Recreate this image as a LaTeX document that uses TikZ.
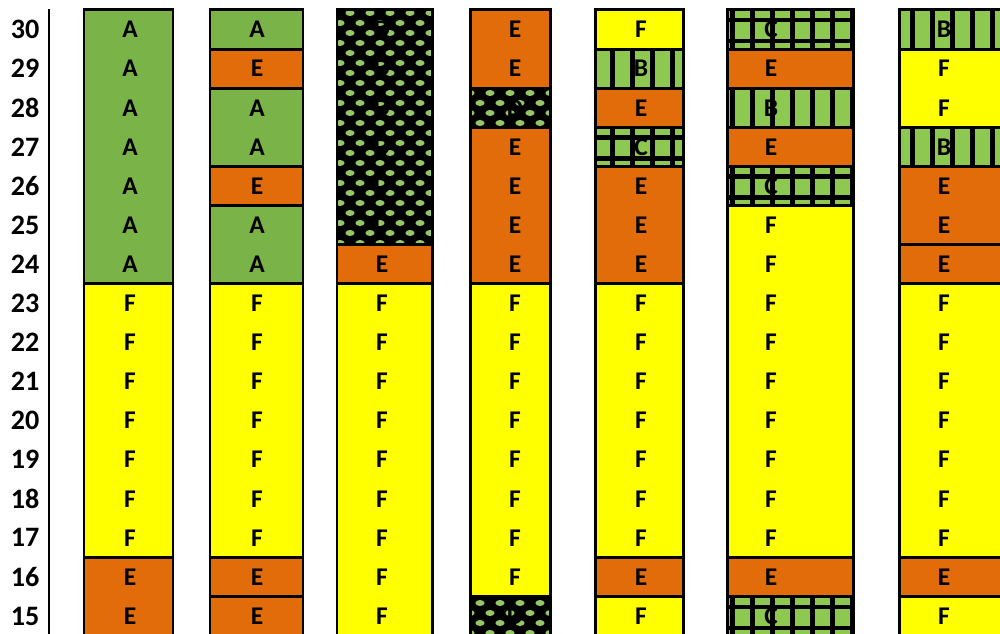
\documentclass[tikz,border=0pt]{standalone}
\usepackage{fontspec}
\setmainfont{Carlito}
\definecolor{agreen}{RGB}{122,180,72}
\definecolor{bgreen}{RGB}{141,200,80}
\definecolor{dgreen}{RGB}{150,198,104}
\definecolor{eorange}{RGB}{226,107,10}
\definecolor{fyellow}{RGB}{255,255,0}
\tikzset{
  cellbox/.style={draw=black,line width=1.7pt},
  lab/.style={font=\bfseries\fontsize{14.5}{14.5}\selectfont,inner sep=0pt},
  rownum/.style={font=\bfseries\fontsize{16}{16}\selectfont,inner sep=0pt},
}
% fills for the kinds of layer: #1 left, #2 top, #3 right, #4 bottom
\newcommand{\fillA}[4]{\fill[agreen] (#1,#2) rectangle (#3,#4);}
\newcommand{\fillE}[4]{\fill[eorange] (#1,#2) rectangle (#3,#4);}
\newcommand{\fillF}[4]{\fill[fyellow] (#1,#2) rectangle (#3,#4);}
\newcommand{\fillB}[4]{%
  \begin{scope}
    \clip (#1,#2) rectangle (#3,#4);
    \fill[bgreen] (#1,#2) rectangle (#3,#4);
    \pgfmathtruncatemacro\xa{20*floor(#1/20)}
    \foreach \k in {0,...,7}{\fill[black] (\xa+\k*20+9.5,#2) rectangle (\xa+\k*20+14.5,#4);}
  \end{scope}}
\newcommand{\fillC}[4]{%
  \fillB{#1}{#2}{#3}{#4}
  \fill[black] (#1,#2+8) rectangle (#3,#2+12.5);
  \fill[black] (#1,#2+29) rectangle (#3,#2+33.5);}
\newcommand{\fillD}[4]{%
  \begin{scope}
    \clip (#1,#2) rectangle (#3,#4);
    \fill[black] (#1,#2) rectangle (#3,#4);
    \pgfmathtruncatemacro\ma{floor((#2-3)/10)}
    \pgfmathtruncatemacro\mb{ceil((#4-3)/10)}
    \pgfmathtruncatemacro\xa{20*floor(#1/20)-20}
    \foreach \m in {\ma,...,\mb}{
      \pgfmathtruncatemacro\off{mod(\m,2)*10}
      \foreach \k in {0,...,8}{\fill[dgreen] (\xa+\off+\k*20,3+10*\m) ellipse (4.6 and 3);}
    }
  \end{scope}}
% one layer: #1 left, #2 right, #3 first row, #4 rows, #5 kind, #6 column, #7 text x
\newcommand{\layer}[7]{%
  \pgfmathsetmacro\ytop{10+39.1*#3}%
  \pgfmathsetmacro\ybot{10+39.1*(#3+#4)}%
  \csname fill#5\endcsname{#1}{\ytop}{#2}{\ybot}%
  \draw[cellbox] (#1,\ytop) rectangle (#2,\ybot);
  \foreach \i in {1,...,#4}{%
    \pgfmathtruncatemacro\rno{31-#3-\i}%
    \pgfmathsetmacro\yc{10+39.1*(#3+\i-1)+19.55}%
    \node[lab] (c#6r\rno) at (#7,\yc) {#5};
  }}
\begin{document}
\begin{tikzpicture}[x=0.02cm,y=-0.02cm]
\useasboundingbox (0,0) rectangle (1000,634);
% row numbers and axis
\foreach \r in {15,...,30}{\node[rownum] (n\r) at (25,{10+39.1*(30-\r)+19.55}) {\r};}
\coordinate (axtop) at (49,9);
\coordinate (axbot) at (49,634);
\draw[line width=1.7pt] (axtop) -- (axbot);
% columns
\foreach \c/\lft/\rgt/\tx/\bl in {
  1/84/173/130/{0/7/A,7/7/F,14/2/E},
  2/210/303/257/{0/1/A,1/1/E,2/2/A,4/1/E,5/2/A,7/7/F,14/1/E,15/1/E},
  3/337/432/382/{0/6/D,6/1/E,7/9/F},
  4/470/550/515/{0/2/E,2/1/D,3/4/E,7/8/F,15/1/D},
  5/595/683/641/{0/1/F,1/1/B,2/1/E,3/1/C,4/3/E,7/7/F,14/1/E,15/1/F},
  6/727/853/771/{0/1/C,1/1/E,2/1/B,3/1/E,4/1/C,5/9/F,14/1/E,15/1/C},
  7/899/1012/944/{0/1/B,1/2/F,3/1/B,4/2/E,6/1/E,7/7/F,14/1/E,15/1/F}}{
  \foreach \s/\n/\k in \bl {\layer{\lft}{\rgt}{\s}{\n}{\k}{\c}{\tx}}
}
\end{tikzpicture}
\end{document}
